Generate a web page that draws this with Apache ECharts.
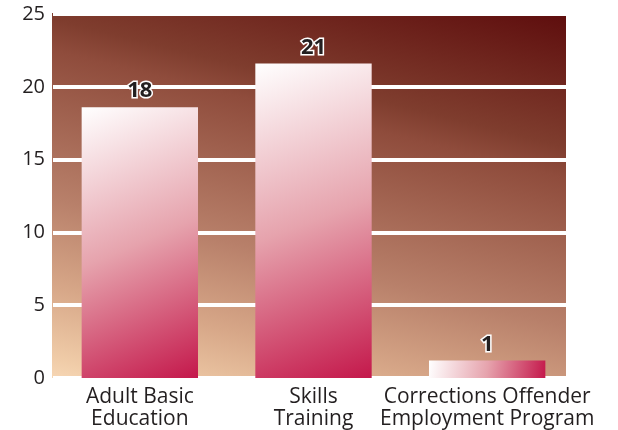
<!DOCTYPE html>
<html>
<head>
<meta charset="utf-8">
<script src="https://cdn.jsdelivr.net/npm/echarts@6/dist/echarts.min.js"></script>
<style>
  html, body { margin: 0; padding: 0; background: #fff; }
  #main { width: 618px; height: 430px; }
</style>
</head>
<body>
<div id="main"></div>
<script>
    // data
    var categories = ['Adult Basic\nEducation', 'Skills\nTraining', 'Corrections Offender\nEmployment Program'];
    var values = [18.6, 21.6, 1.2];
    var valueLabels = ['18', '21', '1'];
    var yTicks = [0, 5, 10, 15, 20, 25];

    var myChart = echarts.init(document.getElementById('main'));
    myChart.setOption({
        animation: false,
        grid: {
            left: 53,
            right: 44,
            top: 14,
            bottom: 52
        },
        graphic: [
            {
                type: 'rect',
                z: -10,
                shape: {x: 52, y: 13, width: 514, height: 365},
                style: {
                    // absolute coords, shade runs mostly bottom to top, tilted a bit
                    fill: new echarts.graphic.LinearGradient(52, 400, 173, -85, [
                        {offset: 0, color: '#fde2c2'},
                        {offset: 0.08, color: '#f0cca8'},
                        {offset: 0.22, color: '#d7a788'},
                        {offset: 0.39, color: '#b8806a'},
                        {offset: 0.68, color: '#8f4c3c'},
                        {offset: 0.74, color: '#7f3d2e'},
                        {offset: 1, color: '#5e0d0d'}
                    ], true)
                }
            }
        ],
        xAxis: {
            type: 'category',
            data: categories,
            axisLine: {show: false},
            axisTick: {show: false},
            axisLabel: {
                interval: 0,
                margin: 8,
                fontFamily: 'Open Sans',
                fontWeight: 500,
                fontSize: 21,
                lineHeight: 22,
                color: '#231f20'
            }
        },
        yAxis: {
            type: 'value',
            min: yTicks[0],
            max: yTicks[yTicks.length - 1],
            interval: 5,
            axisLine: {show: false},
            axisTick: {show: false},
            axisLabel: {
                margin: 8,
                fontFamily: 'Open Sans',
                fontWeight: 500,
                fontSize: 20,
                color: '#231f20'
            },
            splitLine: {
                lineStyle: {color: '#ffffff', width: 4}
            }
        },
        series: {
            type: 'bar',
            data: values,
            barWidth: '67%',
            z: 3,
            itemStyle: {
                color: new echarts.graphic.LinearGradient(0, 0, 1, 1, [
                    {offset: 0, color: '#ffffff'},
                    {offset: 0.5, color: '#e6a3ad'},
                    {offset: 1, color: '#c4184b'}
                ])
            },
            label: {
                show: true,
                position: 'top',
                distance: 5,
                formatter: function (p) {
                    return valueLabels[p.dataIndex];
                },
                fontFamily: 'Open Sans',
                fontWeight: 'bold',
                fontSize: 22,
                color: '#231f20',
                textBorderColor: '#ffffff',
                textBorderWidth: 3
            }
        }
    });
</script>
</body>
</html>
